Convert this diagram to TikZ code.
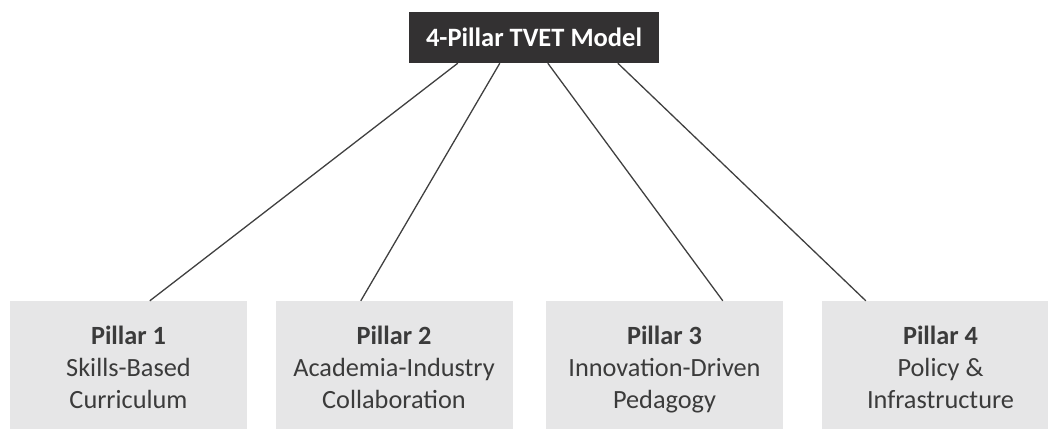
\documentclass[tikz,border=0pt]{standalone}
\usepackage{fontspec}
\setmainfont{Carlito}
\usetikzlibrary{calc}
\definecolor{headfill}{HTML}{333132}
\definecolor{pillarfill}{HTML}{E6E6E7}
\definecolor{inkgrey}{HTML}{3B3B3B}
\definecolor{linkgrey}{HTML}{404040}
% fixed first-line height and last-line depth keep every pillar text at the same baselines
\newcommand{\firstln}{\rule{0pt}{30pt}}
\newcommand{\lastln}{\rule[-8pt]{0pt}{8pt}}
\tikzset{
  headbox/.style={fill=headfill, text=white, inner sep=0pt,
    minimum width=250, minimum height=51,
    font=\fontsize{26.5}{32}\selectfont\bfseries},
  pillarbox/.style={fill=pillarfill, text=inkgrey, inner sep=0pt,
    minimum width=237, minimum height=128, align=center,
    font=\fontsize{26.3}{32}\selectfont},
  link/.style={draw=linkgrey, line width=1.3pt}
}
\begin{document}
\begin{tikzpicture}[x=1pt,y=-1pt]
\useasboundingbox (0,0) rectangle (1048,430);
\clip (0,0) rectangle (1048,430);
% model heading
\node[headbox] (top) at (534,37.5) {4-Pillar TVET Model};
% the four pillars
\node[pillarbox] (p1) at (128.5,365) {\firstln\textbf{Pillar 1}\\Skills-Based\\Curriculum\lastln};
\node[pillarbox] (p2) at (394,365) {\firstln\textbf{Pillar 2}\\Academia-Industry\\Collaboration\lastln};
\node[pillarbox] (p3) at (664.5,365) {\firstln\textbf{Pillar 3}\\Innovation-Driven\\Pedagogy\lastln};
\node[pillarbox] (p4) at (940.5,365) {\firstln\textbf{Pillar 4}\\Policy \&\\Infrastructure\lastln};
% links from the heading to each pillar
\draw[link] ($(top.south west)+(49,0)$) -- ($(p1.north west)+(140,0)$);
\draw[link] ($(top.south west)+(91,0)$) -- ($(p2.north west)+(85.5,0)$);
\draw[link] ($(top.south west)+(139,0)$) -- ($(p3.north west)+(177,0)$);
\draw[link] ($(top.south west)+(209,0)$) -- ($(p4.north west)+(44,0)$);
\end{tikzpicture}
\end{document}
